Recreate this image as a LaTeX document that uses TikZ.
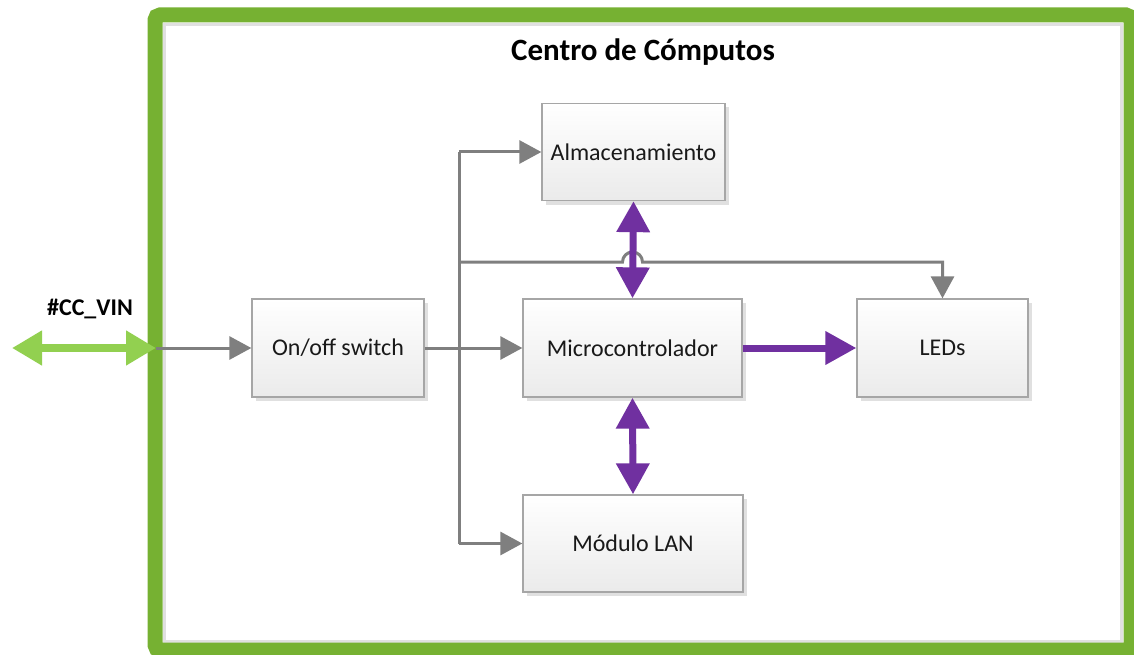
\documentclass[tikz,border=0pt]{standalone}
\usepackage{fontspec}
\setmainfont{Carlito}
\usetikzlibrary{arrows.meta,shadows}
\definecolor{frameg}{HTML}{76B132}
\definecolor{lightg}{HTML}{92D050}
\definecolor{purp}{HTML}{7030A0}
\definecolor{gline}{HTML}{7F7F7F}
\definecolor{bord}{HTML}{A6A6A6}
\tikzset{
  blk/.style={draw=bord, line width=1.3pt, top color=white, bottom color=black!8,
    drop shadow={shadow xshift=4pt, shadow yshift=-4pt, fill=black, opacity=0.12},
    font=\fontsize{24}{28}\selectfont, text=black!90, inner sep=0pt},
  gl/.style={draw=gline, line width=3pt},
  ga/.style={gl, -{Triangle[width=23pt,length=22pt]}},
  pa/.style={draw=purp, line width=7pt, -{Triangle[width=32pt,length=31pt]}},
  pda/.style={draw=purp, line width=7pt, {Triangle[width=32pt,length=31pt]}-{Triangle[width=32pt,length=31pt]}},
  gda/.style={draw=lightg, line width=8pt, {Triangle[width=33pt,length=30pt]}-{Triangle[width=33pt,length=30pt]}},
}
\begin{document}
\begin{tikzpicture}[x=1pt,y=-1pt]
\useasboundingbox (0,0) rectangle (1134,655);
\clip (0,0) rectangle (1134,655);
% frame
\draw[black!12, line width=3pt] (164.5,24.5) rectangle (1121.5,641.5);
\draw[frameg, line width=15pt, rounded corners=5pt] (155,15) rectangle (1131,650);
\node[font=\bfseries\fontsize{31}{35}\selectfont] (title) at (643,52) {Centro de Cómputos};
% blocks
\node[blk, minimum width=183pt, minimum height=97pt] (alm) at (633.5,152) {Almacenamiento};
\node[blk, minimum width=172pt, minimum height=98pt] (sw) at (338,348) {On/off switch};
\node[blk, minimum width=219pt, minimum height=98pt] (mc) at (632.5,348) {Microcontrolador};
\node[blk, minimum width=171pt, minimum height=98pt] (led) at (942.5,348) {LEDs};
\node[blk, minimum width=220pt, minimum height=97pt] (lan) at (633,543.5) {Módulo LAN};
% input
\node[font=\bfseries\fontsize{24}{28}\selectfont] (vinlbl) at (90,309) {\#CC\_VIN};
\coordinate (vin) at (156,348);
\coordinate (vout) at (12,348);
\draw[gda] (vout) -- (vin);
\draw[ga] (vin) -- (sw.west);
\draw[ga] (sw.east) -- (mc.west);
% trunk
\coordinate (bt) at (459,262);
\draw[gl] (bt |- alm.west) -- (bt |- lan.west);
\draw[ga] (bt |- alm.west) -- (alm.west);
\draw[ga] (bt |- lan.west) -- (lan.west);
\draw[gl, -{Triangle[width=23pt,length=22pt]}] (bt) -- ([xshift=-10pt]mc.north |- bt) arc (180:0:10pt) -- (led.north |- bt) -- (led.north);
% purple
\draw[pda] (alm.south) -- (mc.north);
\draw[pda] (mc.south) -- (lan.north);
\draw[pa] (mc.east) -- (led.west);
\end{tikzpicture}
\end{document}
